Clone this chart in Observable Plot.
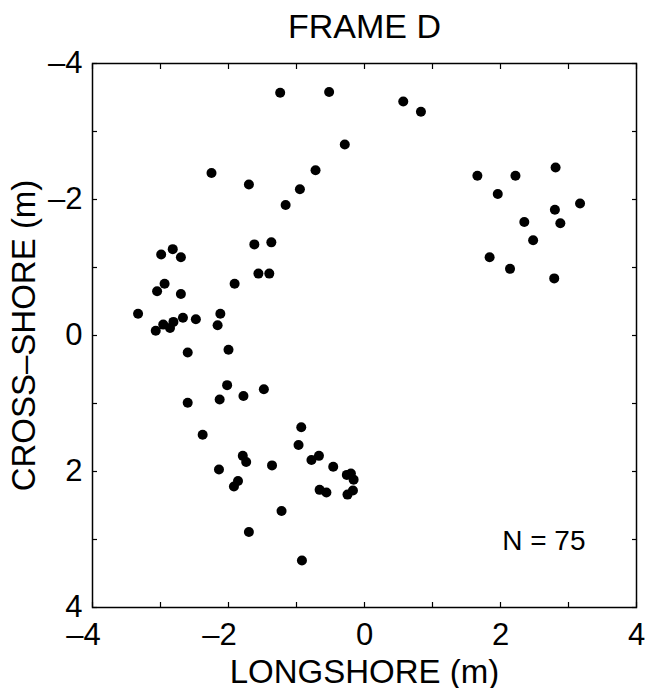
<!DOCTYPE html>
<html><head><meta charset="utf-8">
<script src="https://cdn.jsdelivr.net/npm/d3@7"></script>
<script src="https://cdn.jsdelivr.net/npm/@observablehq/plot@0.6"></script>
<style>body{margin:0;background:#fff;} svg{font-family:"Liberation Sans",Arial,Helvetica,sans-serif;}</style>
</head><body><div id="chart"></div>
<script>
const longshore = [
  -1.24,-0.52,-0.29,-2.25,-1.70,-0.72,-0.95,-1.16,-1.62,-1.37,-1.56,-1.40,-1.91,
  -2.99,-2.82,-2.70,-2.94,-3.05,-2.70,
  -3.33,-3.07,-2.96,-2.86,-2.81,-2.67,-2.48,
  -2.12,-2.16,
  -2.60,-2.00,-2.02,-1.78,-1.48,-2.60,-2.13,-2.38,-0.93,-0.97,-1.79,-1.74,-2.14,-1.36,
  -0.78,-0.67,-0.46,-1.86,-1.92,-0.66,-0.56,
  -0.26,-0.20,-0.16,-0.25,-0.17,
  -1.22,-1.70,-0.92,
  0.57,0.83,1.66,2.22,2.81,1.96,3.17,2.80,2.35,2.88,2.48,1.84,2.14,2.79
];
const crossshore = [
  -3.57,-3.58,-2.81,-2.39,-2.22,-2.43,-2.15,-1.92,-1.34,-1.37,-0.91,-0.91,-0.76,
  -1.19,-1.27,-1.15,-0.76,-0.65,-0.61,
  -0.32,-0.07,-0.16,-0.11,-0.20,-0.26,-0.24,
  -0.32,-0.15,
  0.25,0.21,0.73,0.89,0.79,0.99,0.94,1.46,1.35,1.61,1.77,1.86,1.97,1.91,
  1.83,1.77,1.93,2.14,2.22,2.27,2.31,
  2.05,2.03,2.12,2.34,2.28,
  2.58,2.89,3.31,
  -3.44,-3.29,-2.35,-2.35,-2.47,-2.08,-1.94,-1.85,-1.67,-1.65,-1.40,-1.15,-0.98,-0.84
];
const allTicks = [-4,-3,-2,-1,0,1,2,3,4];
const labelTicks = [-4,-2,0,2,4];
const titleText = "FRAME D";
const xLabel = "LONGSHORE (m)";
const yLabel = "CROSS\u2013SHORE (m)";
const countText = "N = 75";

const points = longshore.map((x, i) => ({x, y: crossshore[i]}));
const fmt = d => (d < 0 ? "\u2013" : "") + Math.abs(d);
const negLabels = labelTicks.filter(d => d < 0);
const posLabels = labelTicks.filter(d => d >= 0);

const chart = Plot.plot({
  width: 646, height: 688,
  marginLeft: 92, marginRight: 10, marginTop: 63, marginBottom: 81,
  style: {fontFamily: '"Liberation Sans", Arial, Helvetica, sans-serif', background: "#fff"},
  x: {domain: [-4, 4]},
  y: {domain: [-4, 4], reverse: true},
  marks: [
    Plot.frame({stroke: "#000", strokeWidth: 1.5}),
    Plot.axisX(allTicks, {anchor: "bottom", tickSize: -5, text: null, label: null, strokeWidth: 1.2}),
    Plot.axisX(allTicks, {anchor: "top", tickSize: -5, text: null, label: null, strokeWidth: 1.2}),
    Plot.axisY(allTicks, {anchor: "left", tickSize: -5, text: null, label: null, strokeWidth: 1.2}),
    Plot.axisY(allTicks, {anchor: "right", tickSize: -5, text: null, label: null, strokeWidth: 1.2}),
    Plot.axisX(negLabels, {anchor: "bottom", tickSize: 0, tickPadding: 15, tickFormat: fmt, label: null, fontSize: 31, fill: "#000", dx: -9}),
    Plot.axisX(posLabels, {anchor: "bottom", tickSize: 0, tickPadding: 15, tickFormat: fmt, label: null, fontSize: 31, fill: "#000"}),
    Plot.axisY(labelTicks, {anchor: "left", tickSize: 0, tickPadding: 10, tickFormat: fmt, label: null, fontSize: 31, fill: "#000"}),
    Plot.dot(points, {x: "x", y: "y", r: 5, fill: "#000", stroke: null}),
    Plot.text([titleText], {frameAnchor: "top", text: d => d, dy: -26, textAnchor: "middle", lineAnchor: "bottom", fontSize: 34, fill: "#000"}),
    Plot.text([xLabel], {frameAnchor: "bottom", text: d => d, dy: 75, textAnchor: "middle", lineAnchor: "bottom", fontSize: 33, fill: "#000"}),
    Plot.text([yLabel], {frameAnchor: "left", text: d => d, dx: -58, rotate: -90, textAnchor: "middle", lineAnchor: "bottom", fontSize: 33, fill: "#000"}),
    Plot.text([countText], {frameAnchor: "bottom-right", text: d => d, dx: -51, dy: -58, textAnchor: "end", lineAnchor: "bottom", fontSize: 28, fill: "#000"})
  ]
});
document.getElementById("chart").appendChild(chart);
</script>
</body></html>
